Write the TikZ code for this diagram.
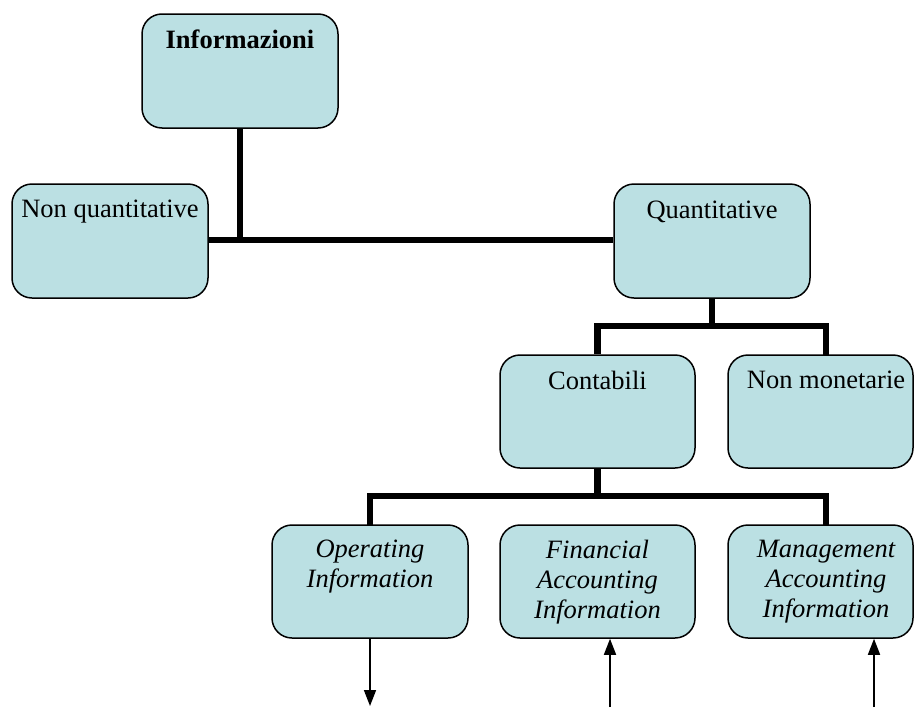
\documentclass[tikz,border=0pt]{standalone}
\usepackage{fontspec}
\setmainfont{Liberation Serif}
\usetikzlibrary{arrows.meta}
\definecolor{boxfill}{RGB}{187,224,227}
\tikzset{
  box/.style={draw=black, line width=1.5pt, fill=boxfill, rounded corners=20pt, inner sep=0pt},
  lbl/.style={anchor=north, inner sep=0pt, align=center, font=\fontsize{26.5}{30}\selectfont},
  conn/.style={line width=6.5pt, line join=miter},
  arr/.style={line width=1.6pt, -{Triangle[length=16pt,width=12pt]}}
}
\begin{document}
\begin{tikzpicture}[x=1pt,y=-1pt]
\useasboundingbox (0,0) rectangle (915,707);
% boxes
\node[box, minimum width=196pt, minimum height=114pt] (info) at (240,71) {};
\node[box, minimum width=196pt, minimum height=114pt] (nonq) at (110,241) {};
\node[box, minimum width=196pt, minimum height=114pt] (quant) at (712,241) {};
\node[box, minimum width=195pt, minimum height=113pt] (cont) at (597.5,411.5) {};
\node[box, minimum width=185pt, minimum height=113pt] (nonm) at (820.5,411.5) {};
\node[box, minimum width=196pt, minimum height=113pt] (oper) at (370,581.5) {};
\node[box, minimum width=195pt, minimum height=113pt] (fin) at (597.5,581.5) {};
\node[box, minimum width=185pt, minimum height=113pt] (man) at (820.5,581.5) {};
% labels
\node[lbl] (tinfo) at (240,30) {\textbf{Informazioni}};
\node[lbl] (tnonq) at (110,200) {Non quantitative};
\node[lbl] (tquant) at (712,201) {Quantitative};
\node[lbl] (tcont) at (597.5,371) {Contabili};
\node[lbl] (tnonm) at (826,371) {Non monetarie};
\node[lbl] (toper) at (370,540) {\itshape Operating\\\itshape Information};
\node[lbl] (tfin) at (597.5,540) {\itshape Financial\\\itshape Accounting\\\itshape Information};
\node[lbl] (tman) at (826,540) {\itshape Management\\\itshape Accounting\\\itshape Information};
% junction coordinates
\coordinate (j1) at (240,240);
\coordinate (j2) at (712,326);
\coordinate (j3) at (597.5,496);
% connectors
\draw[conn] (info.south) -- (j1);
\draw[conn] (nonq.east |- j1) -- (quant.west |- j1);
\draw[conn] (quant.south) -- (j2);
\draw[conn] (cont.north) |- (j2) -| (826,355);
\draw[conn] (cont.south) -- (j3);
\draw[conn] (370,525) |- (j3) -| (826,525);
% arrows
\coordinate (a1) at (370,706);
\coordinate (a2) at (610,707);
\coordinate (a3) at (874,707);
\draw[arr] (oper.south) -- (a1);
\draw[arr] (a2) -- (a2 |- fin.south);
\draw[arr] (a3) -- (a3 |- man.south);
\end{tikzpicture}
\end{document}
